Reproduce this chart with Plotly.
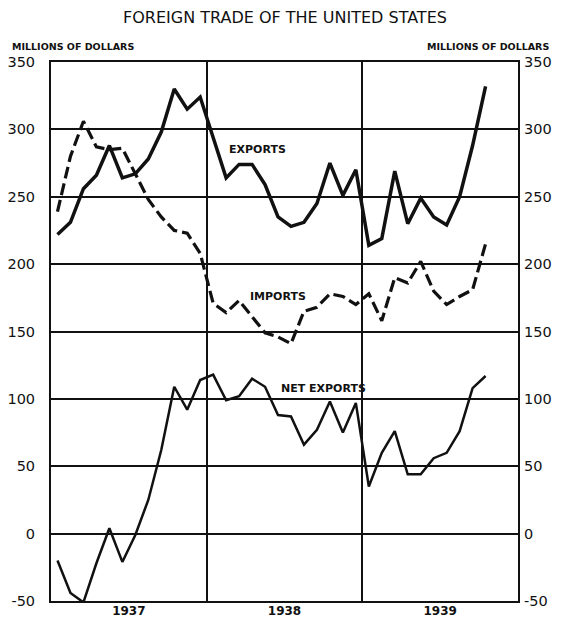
"""Foreign trade of the United States, monthly 1937-1939."""

import plotly.graph_objects as go

# month index 0 = Jan 1937; points are plotted at mid-month
months = [i + 0.5 for i in range(34)]

exports = [
	222, 231, 256, 266, 288, 264, 267, 278, 298, 330, 315, 324,
	294, 264, 274, 274, 259, 235, 228, 231, 245, 275, 251, 270,
	214, 219, 269, 230, 249, 235, 229, 250, 288, 332,
]
imports = [
	239, 280, 306, 287, 285, 286, 267, 248, 235, 225, 223, 208,
	171, 164, 173, 161, 149, 146, 141, 165, 168, 178, 176, 170,
	178, 158, 190, 186, 202, 180, 170, 176, 181, 215,
]
net_exports = [
	-20, -44, -51, -22, 4, -21, -1, 25, 62, 109, 92, 114,
	118, 99, 102, 115, 109, 88, 87, 66, 77, 98, 75, 97,
	35, 60, 76, 44, 44, 56, 60, 76, 108, 117,
]

years = ["1937", "1938", "1939"]
year_centres = [6, 18, 30]
y_ticks = [350, 300, 250, 200, 150, 100, 50, 0, -50]
y_labels = ["350", "300", "250", "200", "150", "100", "50", "0", "-50"]

FONT = "DejaVu Sans"
INK = "#111111"

# the page body adds an 8 px margin all round; keep the page inside the window
W, H = 553, 609
PLOT_W = 467

fig = go.Figure()

fig.add_trace(go.Scatter(
	x=months, y=exports, mode="lines", name="Exports",
	line=dict(color=INK, width=3.5),
))
fig.add_trace(go.Scatter(
	x=months, y=imports, mode="lines", name="Imports",
	line=dict(color=INK, width=3.2, dash="12px,5px"),
))
fig.add_trace(go.Scatter(
	x=months, y=net_exports, mode="lines", name="Net exports",
	line=dict(color=INK, width=2.5),
))
# invisible copy so the right-hand axis is drawn
fig.add_trace(go.Scatter(
	x=months, y=net_exports, mode="lines", yaxis="y2",
	line=dict(color="rgba(0,0,0,0)"), hoverinfo="skip", showlegend=False,
))

labels = [
	("EXPORTS", 15.9, 285),
	("IMPORTS", 17.5, 176),
	("NET EXPORTS", 21.0, 108),
]
for text, x, y in labels:
	fig.add_annotation(
		x=x, y=y, xref="x", yref="y", text=text, showarrow=False,
		font=dict(family=FONT, size=11, color=INK, weight="bold"),
	)

fig.add_annotation(
	x=0.5, y=1, xref="paper", yref="paper", yshift=45, yanchor="middle",
	text="FOREIGN TRADE OF THE UNITED STATES", showarrow=False,
	font=dict(family=FONT, size=16, color=INK),
)
fig.add_annotation(
	x=-41 / PLOT_W, y=1, xref="paper", yref="paper", xanchor="left", yanchor="middle",
	yshift=16, text="MILLIONS OF DOLLARS", showarrow=False,
	font=dict(family=FONT, size=9.5, color=INK, weight="bold"),
)
fig.add_annotation(
	x=1 + 33 / PLOT_W, y=1, xref="paper", yref="paper", xanchor="right", yanchor="middle",
	yshift=16, text="MILLIONS OF DOLLARS", showarrow=False,
	font=dict(family=FONT, size=9.5, color=INK, weight="bold"),
)

yaxis_common = dict(
	range=[-50, 350],
	tickmode="array",
	tickvals=y_ticks,
	ticktext=y_labels,
	tickfont=dict(family=FONT, size=14.5, color=INK),
	ticks="",
	zeroline=False,
	fixedrange=True,
	automargin=False,
)

fig.update_layout(
	width=W,
	height=H,
	margin=dict(l=43, r=W - 43 - PLOT_W, t=54, b=16),
	paper_bgcolor="white",
	plot_bgcolor="white",
	showlegend=False,
	xaxis=dict(
		range=[0, 36],
		tickmode="array",
		tickvals=year_centres,
		ticktext=years,
		tickfont=dict(family=FONT, size=12, color=INK, weight="bold"),
		ticks="",
		ticklabelstandoff=-2,
		showgrid=False,
		zeroline=False,
		showline=True,
		linecolor=INK,
		linewidth=2,
		mirror=True,
		automargin=False,
		fixedrange=True,
		minor=dict(tick0=0, dtick=12, showgrid=True, gridcolor=INK, gridwidth=1.5),
	),
	yaxis=dict(
		**yaxis_common,
		ticklabelstandoff=11,
		showgrid=True,
		gridcolor=INK,
		gridwidth=1.5,
		showline=True,
		linecolor=INK,
		linewidth=2,
		mirror=True,
	),
	yaxis2=dict(
		**yaxis_common,
		ticklabelstandoff=5,
		overlaying="y",
		side="right",
		showgrid=False,
		showline=False,
	),
)

fig.write_html("out.html")
